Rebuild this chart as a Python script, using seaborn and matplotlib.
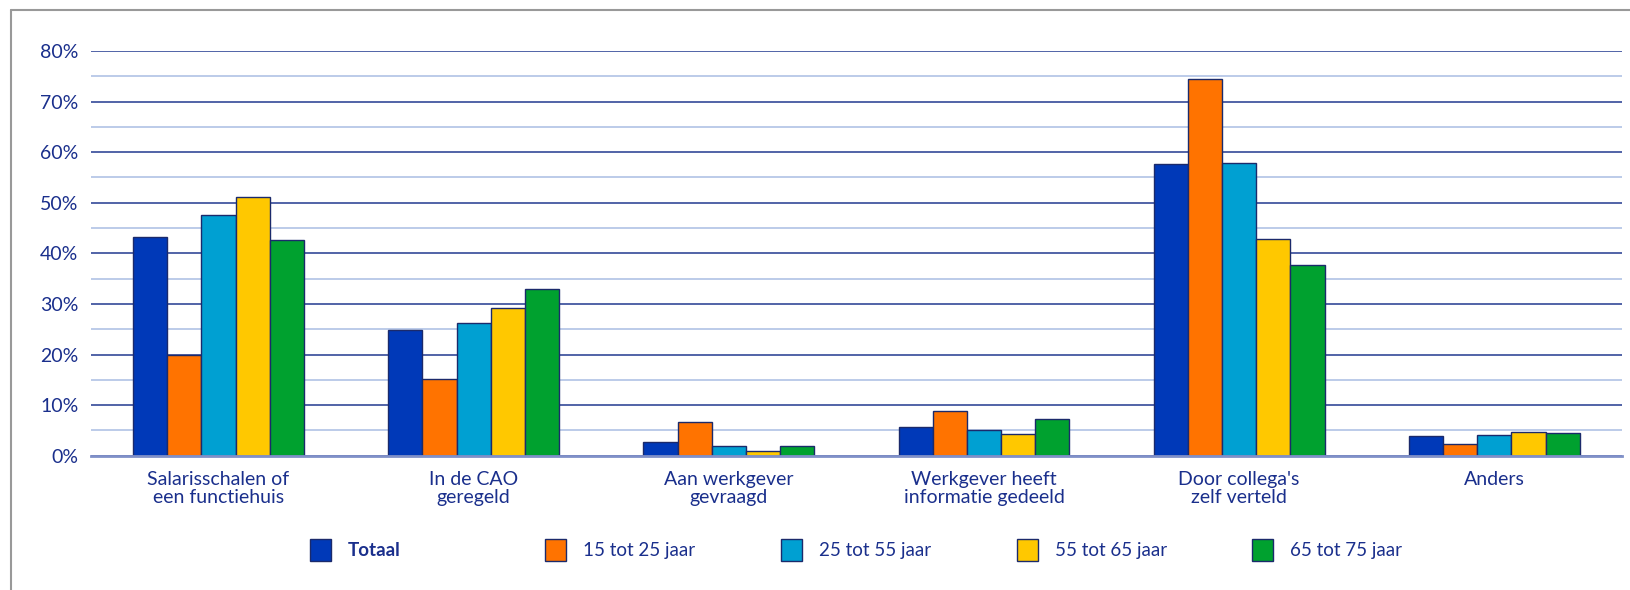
import matplotlib
matplotlib.use("Agg")
import matplotlib.pyplot as plt
import matplotlib.patches as mpatches
from matplotlib.ticker import MultipleLocator, FuncFormatter
import seaborn as sns
import pandas as pd

categories = [
    "Salarisschalen of\neen functiehuis",
    "In de CAO\ngeregeld",
    "Aan werkgever\ngevraagd",
    "Werkgever heeft\ninformatie gedeeld",
    "Door collega's\nzelf verteld",
    "Anders",
]
groups = ["Totaal", "15 tot 25 jaar", "25 tot 55 jaar", "55 tot 65 jaar", "65 tot 75 jaar"]

totaal = [43.2, 24.9, 2.7, 5.6, 57.6, 3.9]
jaar_15_25 = [20.0, 15.1, 6.6, 8.8, 74.4, 2.3]
jaar_25_55 = [47.5, 26.2, 1.9, 5.0, 57.9, 4.1]
jaar_55_65 = [51.1, 29.1, 0.9, 4.3, 42.8, 4.6]
jaar_65_75 = [42.7, 33.0, 1.9, 7.2, 37.6, 4.4]

colors = ["#0039B8", "#FF7300", "#00A0D2", "#FFC800", "#00A12F"]
navy = "#1A2F8C"

rows = []
for g, vals in zip(groups, [totaal, jaar_15_25, jaar_25_55, jaar_55_65, jaar_65_75]):
    for c, v in zip(categories, vals):
        rows.append({"categorie": c, "groep": g, "waarde": v})
df = pd.DataFrame(rows)

sns.set_style("white")
plt.rcParams["font.family"] = ["Lato", "DejaVu Sans"]

fig = plt.figure(figsize=(16.3, 5.9), dpi=100)
ax = fig.add_axes([0.0558, 0.2276, 0.9392, 0.686])

sns.barplot(data=df, x="categorie", y="waarde", hue="groep", order=categories,
            hue_order=groups, palette=colors, saturation=1, width=0.67, gap=0,
            edgecolor="#1B2A6B", linewidth=1, legend=False, ax=ax, zorder=3)

ax.set_ylim(0, 80)
ax.set_xlim(-0.5, 5.5)
ax.yaxis.set_major_locator(MultipleLocator(10))
ax.yaxis.set_minor_locator(MultipleLocator(5))
ax.yaxis.set_major_formatter(FuncFormatter(lambda v, p: f"{v:.0f}%"))
ax.grid(axis="y", which="major", color="#22398F", linewidth=1.1, zorder=0)
ax.grid(axis="y", which="minor", color="#A9BDE3", linewidth=1.1, zorder=0)
ax.set_axisbelow(True)
for s in ["top", "right", "left"]:
    ax.spines[s].set_visible(False)
ax.spines["bottom"].set_color("#8090C8")
ax.spines["bottom"].set_linewidth(2)
ax.spines["bottom"].set_zorder(4)
ax.tick_params(axis="both", which="both", length=0, colors=navy, labelsize=14)
ax.tick_params(axis="y", pad=9)
ax.tick_params(axis="x", pad=11)
for t in ax.get_xticklabels():
    t.set_linespacing(1.05)
ax.set_xlabel("")
ax.set_ylabel("")

# legenda, vaste afstand tussen de items
leg_x = [309.8, 544.7, 780.7, 1016.6, 1251.5]
for i, g in enumerate(groups):
    h = mpatches.Patch(facecolor=colors[i], edgecolor="#1B2A6B", linewidth=1)
    leg = fig.legend([h], [g], loc="center left", bbox_to_anchor=(leg_x[i] / 1630, 0.068),
                     frameon=False, fontsize=13.5, handlelength=1.15, handleheight=1.45,
                     handletextpad=0.9, borderpad=0, borderaxespad=0)
    for t in leg.get_texts():
        t.set_color(navy)
        if g == "Totaal":
            t.set_fontweight("bold")

# kader rond de figuur
fig.add_artist(plt.Line2D([11 / 1630, 11 / 1630], [0, 1 - 9.5 / 590], color="#999999", lw=1.5))
fig.add_artist(plt.Line2D([11 / 1630, 1], [1 - 9.5 / 590, 1 - 9.5 / 590], color="#999999", lw=1.5))

fig.savefig("out.png", dpi=100)
